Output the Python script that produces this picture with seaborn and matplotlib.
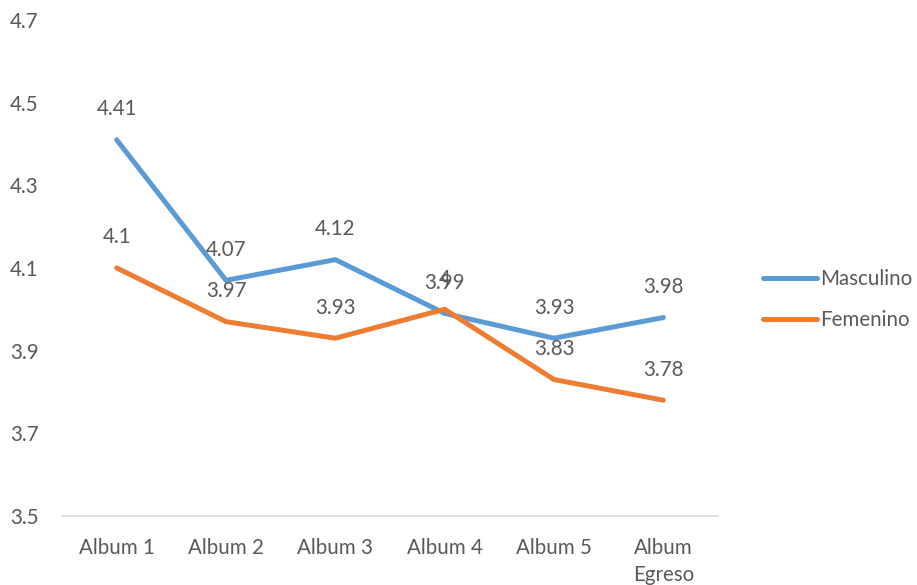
import matplotlib
matplotlib.use("Agg")
import matplotlib.pyplot as plt
import seaborn as sns
import pandas as pd

categories = ["Album 1", "Album 2", "Album 3", "Album 4", "Album 5", "Album\nEgreso"]
masculino = [4.41, 4.07, 4.12, 3.99, 3.93, 3.98]
femenino = [4.10, 3.97, 3.93, 4.00, 3.83, 3.78]
series_names = ["Masculino", "Femenino"]
y_ticks = [3.5, 3.7, 3.9, 4.1, 4.3, 4.5, 4.7]

sns.set_theme(style="white")
plt.rcParams["font.family"] = ["Lato", "DejaVu Sans"]

df = pd.DataFrame({
    "pos": list(range(len(categories))) * 2,
    "valor": masculino + femenino,
    "serie": [series_names[0]] * len(masculino) + [series_names[1]] * len(femenino),
})

palette = {"Masculino": "#5B9BD5", "Femenino": "#ED7D31"}
text_color = "#595959"
fs = 14.8

fig = plt.figure(figsize=(9.17, 5.85), dpi=100)
ax = fig.add_axes([0.0676, 0.118, 0.7154, 0.848])

sns.lineplot(data=df, x="pos", y="valor", hue="serie", palette=palette,
             linewidth=3.6, ax=ax, legend=False, sort=False,
             solid_capstyle="round", solid_joinstyle="round")

# value labels above each point
for vals in (masculino, femenino):
    for i, v in enumerate(vals):
        ax.annotate(f"{v:g}", (i, v), xytext=(0, 22), textcoords="offset points",
                    ha="center", va="center", fontsize=fs, color=text_color)

ax.set_xlim(-0.5, len(categories) - 0.5)
ax.set_ylim(3.5, 4.7)
ax.set_yticks(y_ticks)
ax.set_yticklabels([f"{t:.1f}" for t in y_ticks])
ax.set_xticks(range(len(categories)))
ax.set_xticklabels(categories, linespacing=1.45)
ax.tick_params(axis="both", length=0, labelsize=fs, labelcolor=text_color)
ax.tick_params(axis="y", pad=17)
ax.tick_params(axis="x", pad=16)
ax.set_xlabel("")
ax.set_ylabel("")
for side in ("top", "right", "left"):
    ax.spines[side].set_visible(False)
ax.spines["bottom"].set_color("#D9D9D9")
ax.spines["bottom"].set_linewidth(1.2)

handles = [plt.Line2D([], [], color=palette[n], linewidth=3.6, solid_capstyle="round")
           for n in series_names]
fig.legend(handles, series_names, loc="center left", bbox_to_anchor=(0.812, 0.488),
           frameon=False, fontsize=fs, labelcolor=text_color, handlelength=2.6,
           handletextpad=0.15, labelspacing=1.0)

fig.savefig("out.png", dpi=100)
